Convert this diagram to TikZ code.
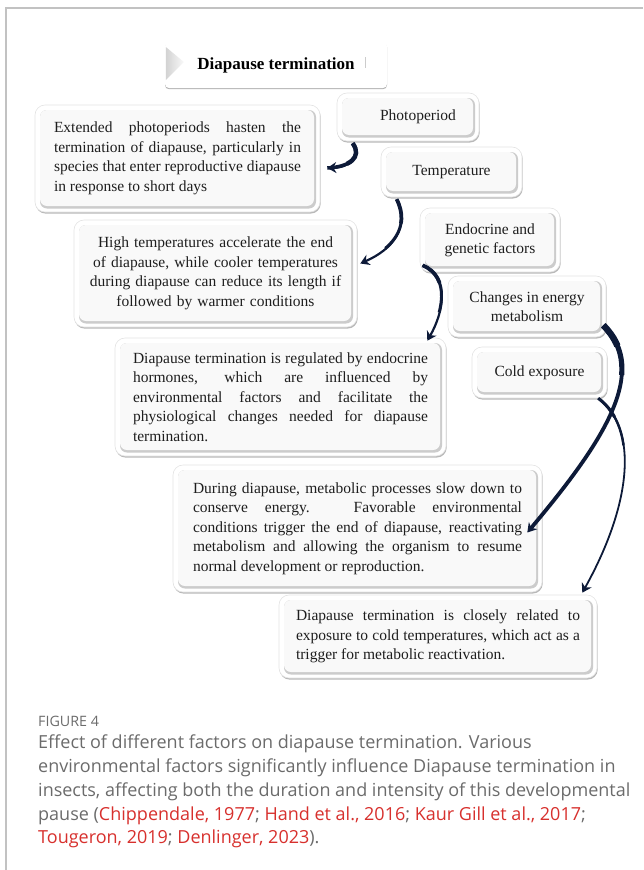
\documentclass[tikz,border=0pt]{standalone}
\usepackage{fontspec}
\setmainfont{Liberation Serif}
\newfontfamily\capfont{Open Sans}
\usetikzlibrary{shadows,arrows.meta}
\setlength{\parindent}{0pt}

\definecolor{ink}{HTML}{1E1E1E}
\definecolor{navy}{HTML}{0D1A38}
\definecolor{capgray}{HTML}{6B6B6B}
\definecolor{citered}{HTML}{D7302D}
\definecolor{framegray}{HTML}{C2C2C2}

\newcommand{\redref}[1]{\textcolor{citered}{#1}}

\tikzset{
  panel/.style={rounded corners=10pt, fill=white, draw=gray!22, line width=0.6pt,
    drop shadow={shadow xshift=0.7pt, shadow yshift=-1.6pt, opacity=0.28, fill=black},
    inner sep=0pt, text=ink,
    path picture={
      \fill[gray!40, rounded corners=7pt]
        ([shift={(5,-3.5)}]path picture bounding box.south west) rectangle
        ([shift={(-4,5)}]path picture bounding box.north east);
      \fill[gray!5, rounded corners=7pt]
        ([shift={(5,-6)}]path picture bounding box.south west) rectangle
        ([shift={(-6,5)}]path picture bounding box.north east);
    }},
  note/.style={panel, font=\fontsize{15.5}{19.5}\selectfont},
  factor/.style={panel, font=\fontsize{15.5}{19}\selectfont, align=center},
  headbox/.style={fill=white, rounded corners=4pt, inner sep=0pt,
    drop shadow={shadow xshift=0pt, shadow yshift=-1.2pt, opacity=0.3, fill=black},
    font=\fontsize{17}{20}\selectfont\bfseries, text=black},
  link/.style={draw=navy, line width=#1, -{Stealth[length=9pt,width=11pt]},
    preaction={draw=navy, arrows=-, line width=#1*1.7, dash pattern=on 25pt off 3000pt},
    preaction={draw=navy, arrows=-, line width=#1*1.35, dash pattern=on 55pt off 3000pt}},
  link/.default=2.4pt,
}

\begin{document}
\begin{tikzpicture}[x=1pt, y=-1pt]
\useasboundingbox (0,0) rectangle (643,870);

% page frame
\draw[framegray, line width=1.4pt] (6,870) -- (6,8) -- (643,8);

% heading
\node[headbox, minimum width=222pt, minimum height=46pt] (title) at (276,65) {Diapause termination};
\shade[left color=gray!35, right color=gray!5]
  ([shift={(1,-18)}]title.west) -- ([shift={(19,-3)}]title.west) -- ([shift={(1,15)}]title.west) -- cycle;
\draw[gray!40, line width=0.8pt] ([shift={(-22,-8)}]title.east) -- ([shift={(-22,3)}]title.east);

% factors
\node[factor, minimum width=142pt, minimum height=48pt] (photo) at (408,117) {\hspace*{20pt}Photoperiod};
\node[factor, minimum width=141pt, minimum height=50pt] (temp) at (451.5,172) {Temperature};
\node[factor, minimum width=140pt, minimum height=64pt] (endo) at (490,240) {Endocrine and\\genetic factors};
\node[factor, minimum width=158pt, minimum height=61pt] (chg) at (527,306.5) {Changes in energy\\metabolism};
\node[factor, minimum width=135pt, minimum height=51pt] (cold) at (539.5,372.5) {Cold exposure};

% explanations
\node[note, minimum width=285pt, minimum height=107pt, text width=247pt, align=justify] (b1) at (177.5,158.5)
  {Extended photoperiods hasten the\linebreak termination of diapause, particularly in\linebreak species that enter reproductive diapause\linebreak in response to short days};
\node[note, minimum width=283pt, minimum height=107pt, text width=262pt, align=center] (b2) at (215.5,273.5)
  {High temperatures accelerate the end\\of diapause, while cooler temperatures\\during diapause can reduce its length if\\followed by warmer conditions};
\node[note, minimum width=331pt, minimum height=118pt, text width=295pt, align=justify] (b3) at (280.5,397)
  {Diapause termination is regulated by endocrine\linebreak hormones, which are influenced by\linebreak environmental factors and facilitate the\linebreak physiological changes needed for diapause\linebreak termination.};
\node[note, minimum width=369pt, minimum height=127pt, text width=329pt, align=justify] (b4) at (357.5,528.5)
  {During diapause, metabolic processes slow down to\linebreak conserve energy. Favorable environmental\linebreak conditions trigger the end of diapause, reactivating\linebreak metabolism and allowing the organism to resume\linebreak normal development or reproduction.};
\node[note, minimum width=318pt, minimum height=83pt, text width=284pt, align=justify] (b5) at (438,636.5)
  {Diapause termination is closely related to\linebreak exposure to cold temperatures, which act as a\linebreak trigger for metabolic reactivation.};

% curved connectors
\draw[link=2.6pt] ([shift={(16,2)}]photo.south west) .. controls +(10,14) and +(22,-1) .. ([shift={(7,9.5)}]b1.east);
\draw[link=2.2pt] ([shift={(16,2)}]temp.south west) .. controls +(14,28) and +(32,-14) .. ([shift={(3,-10)}]b2.east);
\draw[link=2.2pt] ([shift={(3,-7)}]endo.south west) .. controls +(28,12) and +(16,-28) .. ([shift={(-19,3)}]b3.north east);
\draw[link=3.8pt] ([shift={(-3,-12)}]chg.south east) .. controls +(45,45) and +(80,-95) .. ([shift={(-15,4)}]b4.east);
\draw[link=1.8pt] ([shift={(-9,0)}]cold.south east) .. controls +(40,30) and +(50,-90) .. ([shift={(-15,-2)}]b5.north east);

% caption
\node[anchor=west, inner sep=0pt, font=\capfont\fontsize{14.3}{16}\selectfont, text=capgray] (fig) at (38,721) {FIGURE 4};
\node[anchor=north west, inner sep=0pt, font=\capfont\fontsize{18}{23.7}\selectfont, text=capgray, align=left] (cap) at (38,735)
  {Effect of different factors on diapause termination. Various\\
   environmental factors significantly influence Diapause termination in\\
   insects, affecting both the duration and intensity of this developmental\\
   pause (\redref{Chippendale, 1977}; \redref{Hand et al., 2016}; \redref{Kaur Gill et al., 2017};\\
   \redref{Tougeron, 2019}; \redref{Denlinger, 2023}).};
\end{tikzpicture}
\end{document}
